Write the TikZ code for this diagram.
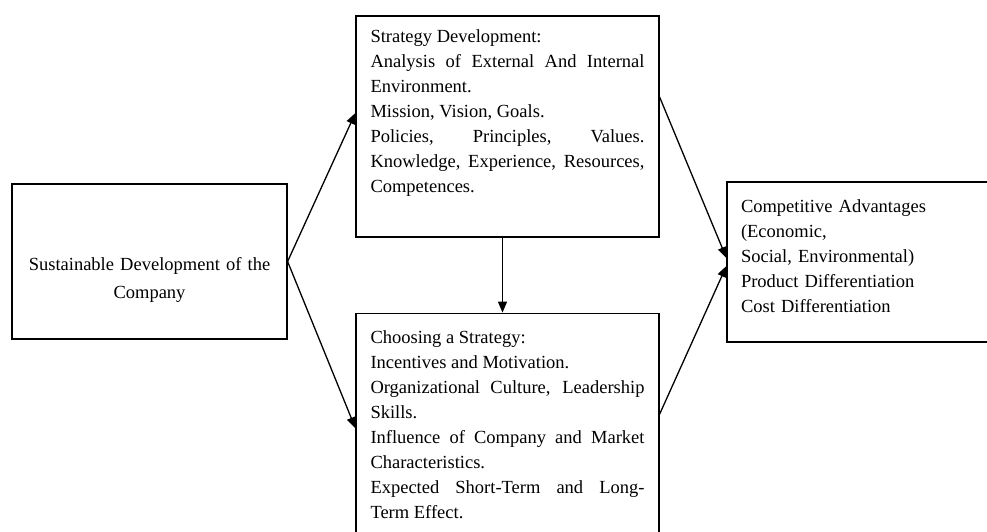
\documentclass[tikz,border=0pt]{standalone}
\usepackage{fontspec}
\setmainfont{Liberation Serif}
\usetikzlibrary{positioning,arrows.meta}

\newcommand{\fullline}[1]{{\tolerance=10000\rightskip=0pt\parfillskip=0pt\relax #1\par}}

\begin{document}
\begin{tikzpicture}[
            x=1pt, y=1pt,
            node distance = 75pt,
            box/.style={rectangle,draw,line width=1.2pt,inner ysep=0pt,
                font=\fontsize{18.5}{25}\selectfont},
            arr/.style={line width=1.3pt,-{Triangle[length=11pt,width=9pt]}}]
            \useasboundingbox (0,0) rectangle (987,531);
            \clip (0,0) rectangle (987,531);

            \node[box,text width=262pt,inner xsep=6.5pt,align=center,
                text height=86pt,text depth=69pt,
                font=\fontsize{18.5}{28}\selectfont] (company) at (149.5,269.5)
                {Sustainable Development of the\\Company};
            \node[box,text width=274pt,inner xsep=14.5pt,align=justify,
                text height=27pt,text depth=194pt] (devel) at (507.5,404.5)
                {Strategy Development:\par
                \fullline{Analysis of External And Internal}
                Environment.\par
                Mission, Vision, Goals.\par
                \fullline{Policies, Principles, Values.}
                \fullline{Knowledge, Experience, Resources,}
                Competences.};
            \node[box,below=of devel,text width=274pt,inner xsep=14.5pt,
                align=justify,text height=30pt,text depth=200pt] (choice)
                {Choosing a Strategy:\par
                Incentives and Motivation.\par
                \fullline{Organizational Culture, Leadership}
                Skills.\par
                \fullline{Influence of Company and Market}
                Characteristics.\par
                \fullline{Expected Short-Term and Long-}
                Term Effect.};
            \node[box,text width=260pt,inner xsep=14pt,align=left,
                text height=30pt,text depth=130pt] (advantage) at (871,269)
                {Competitive Advantages\\(Economic,\\Social, Environmental)\\
                Product Differentiation\\Cost Differentiation};

            \path[arr] (company.east) edge ([yshift=13.5pt]devel.west)
            (company.east) edge (choice.west)
            ([xshift=-5pt]devel.south) edge ([xshift=-5pt]choice.north)
            ([yshift=29.5pt]devel.east) edge ([yshift=4pt]advantage.west)
            ([yshift=14pt]choice.east) edge ([yshift=-4pt]advantage.west);
            \end{tikzpicture}
\end{document}
